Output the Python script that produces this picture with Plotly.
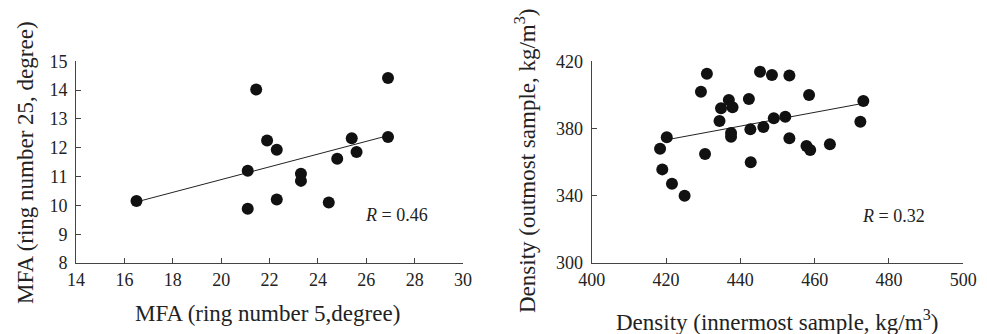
import plotly.graph_objects as go

# Left panel: MFA
mfa_ring5 = [16.5, 21.1, 21.1, 21.45, 21.9, 22.3, 22.3, 23.3, 23.3, 24.45, 24.8, 25.4, 25.6, 26.9, 26.9]
mfa_ring25 = [10.15, 11.2, 9.88, 14.02, 12.25, 11.93, 10.2, 11.1, 10.85, 10.1, 11.62, 12.33, 11.85, 14.42, 12.37]
mfa_fit_x = [16.5, 26.9]
mfa_fit_y = [10.12, 12.42]

# Right panel: Density
dens_inner = [431.0, 429.4, 445.3, 448.5, 453.2, 458.5, 436.9, 434.8, 437.9, 442.3,
              434.4, 420.2, 418.4, 419.0, 421.6, 425.0, 430.5, 437.5, 437.5, 442.7,
              446.2, 449.0, 452.1, 442.8, 453.2, 457.8, 458.8, 464.1, 473.1, 472.3]
dens_outer = [412.6, 401.9, 413.8, 411.8, 411.6, 399.9, 397.0, 392.0, 392.6, 397.6,
              384.5, 374.8, 368.0, 355.7, 347.2, 340.0, 364.8, 377.3, 375.1, 379.5,
              380.9, 386.1, 387.0, 359.9, 374.2, 369.6, 367.2, 370.6, 396.4, 384.1]
dens_fit_x = [420.2, 473.1]
dens_fit_y = [373.3, 395.0]

mfa_xticks = [14, 16, 18, 20, 22, 24, 26, 28, 30]
mfa_yticks = [8, 9, 10, 11, 12, 13, 14, 15]
dens_xticks = [400, 420, 440, 460, 480, 500]
dens_yticks = [300, 340, 380, 420]

FONT = "'Liberation Serif', 'Times New Roman', Times, serif"
DOT = "#111111"
AX = "#444444"
TXT = "#222222"

fig = go.Figure()
fig.add_trace(go.Scatter(x=mfa_fit_x, y=mfa_fit_y, mode="lines",
                         line=dict(color="#222", width=1), xaxis="x", yaxis="y", showlegend=False))
fig.add_trace(go.Scatter(x=mfa_ring5, y=mfa_ring25, mode="markers",
                         marker=dict(size=12, color=DOT), xaxis="x", yaxis="y", showlegend=False))
fig.add_trace(go.Scatter(x=dens_fit_x, y=dens_fit_y, mode="lines",
                         line=dict(color="#222", width=1), xaxis="x2", yaxis="y2", showlegend=False))
fig.add_trace(go.Scatter(x=dens_inner, y=dens_outer, mode="markers",
                         marker=dict(size=12, color=DOT), xaxis="x2", yaxis="y2", showlegend=False))

W, H = 987, 334
ydom = [(H - 263) / H, (H - 61.3) / H]

def axis(dom, rng, ticks, anchor, standoff=0):
    return dict(domain=dom, range=rng, tickvals=ticks, ticks="inside", ticklen=5,
                tickcolor=AX, showline=True, linecolor=AX, linewidth=1,
                showgrid=False, zeroline=False, anchor=anchor, automargin=False,
                ticklabelstandoff=standoff,
                tickfont=dict(family=FONT, size=18, color=TXT))

fig.update_layout(
    width=W, height=H, margin=dict(l=0, r=0, t=0, b=0, pad=0, autoexpand=False),
    plot_bgcolor="white", paper_bgcolor="white", showlegend=False,
    font=dict(family=FONT),
    xaxis=axis([76 / W, 463 / W], [14, 30], mfa_xticks, "y"),
    yaxis=axis(ydom, [8, 15], mfa_yticks, "x", 4),
    xaxis2=axis([591.7 / W, 963.3 / W], [400, 500], dens_xticks, "y2"),
    yaxis2=axis(ydom, [300, 420], dens_yticks, "x2", 4),
)

def pann(text, px, py, angle=0, size=23):
    return dict(text=text, x=px / W, y=(H - py) / H, xref="paper", yref="paper",
                xanchor="center", yanchor="middle", showarrow=False, textangle=angle,
                font=dict(family=FONT, size=size, color=TXT))

ann = [
    pann("MFA (ring number 5,degree)", 267, 313),
    pann("MFA (ring number 25, degree)", 25, 163, -90),
    pann("Density (innermost sample, kg/m<sup>3</sup>)", 777, 320),
    pann("Density (outmost sample, kg/m<sup>3</sup>)", 525, 161, -90),
    dict(text="<i>R</i> = 0.46", x=27.25, y=9.67, xref="x", yref="y", showarrow=False,
         xanchor="center", yanchor="middle", font=dict(family=FONT, size=18, color=TXT)),
    dict(text="<i>R</i> = 0.32", x=481.1, y=328, xref="x2", yref="y2", showarrow=False,
         xanchor="center", yanchor="middle", font=dict(family=FONT, size=18, color=TXT)),
]
fig.update_layout(annotations=ann)

fig.write_html("out.html")
